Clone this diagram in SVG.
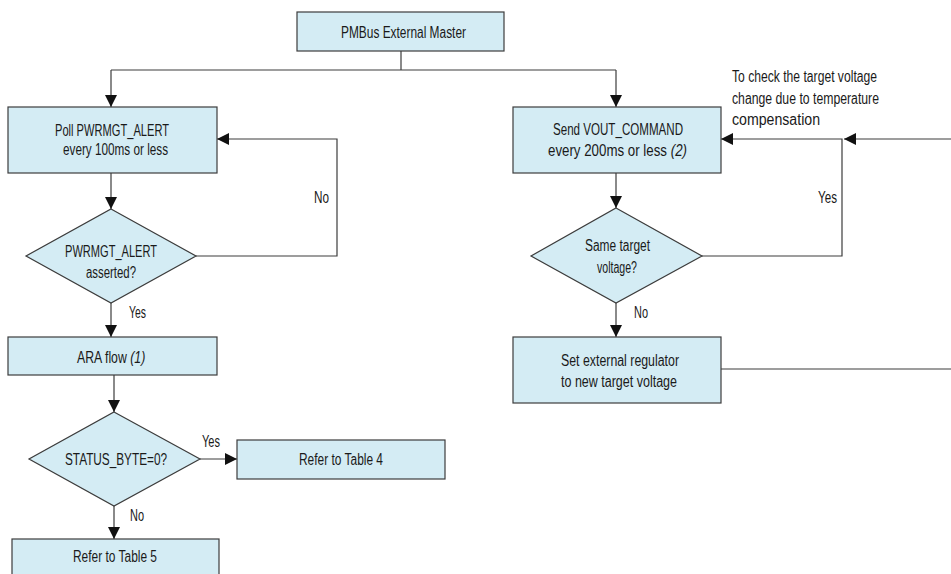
<svg xmlns="http://www.w3.org/2000/svg" width="951" height="574" viewBox="0 0 951 574">
<style>
.box{fill:#d4ecf4;stroke:#3c3c3c;stroke-width:1.2}
.ln{fill:none;stroke:#3c3c3c;stroke-width:1.2}
text{font-family:"Liberation Sans",Arial,sans-serif;font-size:16px;fill:#1a1a1a}
.it{font-style:italic}
</style>
<defs>
<marker id="ah" markerUnits="userSpaceOnUse" markerWidth="12" markerHeight="12" refX="12" refY="6" orient="auto">
<path d="M0,0 L12,6 L0,12 z" fill="#111"/>
</marker>
</defs>
<rect width="951" height="574" fill="#fff"/>
<g id="connectors">
<path class="ln" d="M401,51 V70"/>
<path class="ln" d="M111,70 H616"/>
<path class="ln" d="M111,70 V107" marker-end="url(#ah)"/>
<path class="ln" d="M616,70 V107" marker-end="url(#ah)"/>
<path class="ln" d="M111,173 V209" marker-end="url(#ah)"/>
<path class="ln" d="M196,256 H337 V139 H217" marker-end="url(#ah)"/>
<path class="ln" d="M111,303 V337" marker-end="url(#ah)"/>
<path class="ln" d="M114,375 V412" marker-end="url(#ah)"/>
<path class="ln" d="M200,459 H237" marker-end="url(#ah)"/>
<path class="ln" d="M114,506 V539" marker-end="url(#ah)"/>
<path class="ln" d="M616,173 V208" marker-end="url(#ah)"/>
<path class="ln" d="M616,303 V337" marker-end="url(#ah)"/>
<path class="ln" d="M702,256 H842 V139 H721" marker-end="url(#ah)"/>
<path class="ln" d="M951,139 H844" marker-end="url(#ah)"/>
<path class="ln" d="M721,369 H951"/>
<text x="314" y="203" textLength="15" lengthAdjust="spacingAndGlyphs">No</text>
<text x="129" y="318" textLength="17" lengthAdjust="spacingAndGlyphs">Yes</text>
<text x="202" y="447" textLength="18" lengthAdjust="spacingAndGlyphs">Yes</text>
<text x="130" y="521" textLength="14" lengthAdjust="spacingAndGlyphs">No</text>
<text x="818" y="203" textLength="19" lengthAdjust="spacingAndGlyphs">Yes</text>
<text x="634" y="318" textLength="14" lengthAdjust="spacingAndGlyphs">No</text>
<text x="732" y="82" textLength="145" lengthAdjust="spacingAndGlyphs">To check the target voltage</text>
<text x="732" y="104" textLength="147" lengthAdjust="spacingAndGlyphs">change due to temperature</text>
<text x="732" y="125" textLength="88" lengthAdjust="spacingAndGlyphs">compensation</text>
</g>
<g id="master">
<rect class="box" x="297" y="12" width="207" height="39"/>
<text x="341" y="38" textLength="125" lengthAdjust="spacingAndGlyphs">PMBus External Master</text>
</g>
<g id="poll">
<rect class="box" x="8" y="107" width="209" height="66"/>
<text x="55" y="136" textLength="114" lengthAdjust="spacingAndGlyphs">Poll PWRMGT_ALERT</text>
<text x="63" y="155" textLength="105" lengthAdjust="spacingAndGlyphs">every 100ms or less</text>
</g>
<g id="alert-decision">
<polygon class="box" points="111,209 196,256 111,303 26,256"/>
<text x="65" y="257" textLength="92" lengthAdjust="spacingAndGlyphs">PWRMGT_ALERT</text>
<text x="86" y="278" textLength="50" lengthAdjust="spacingAndGlyphs">asserted?</text>
</g>
<g id="ara">
<rect class="box" x="8" y="337" width="209" height="38"/>
<text transform="translate(77,363) scale(0.768,1)">ARA flow <tspan class="it">(1)</tspan></text>
</g>
<g id="status-decision">
<polygon class="box" points="114,412 200,459 114,506 29,459"/>
<text x="65" y="465" textLength="102" lengthAdjust="spacingAndGlyphs">STATUS_BYTE=0?</text>
</g>
<g id="table4">
<rect class="box" x="237" y="440" width="208" height="39"/>
<text x="299" y="465" textLength="84" lengthAdjust="spacingAndGlyphs">Refer to Table 4</text>
</g>
<g id="table5">
<rect class="box" x="12" y="539" width="207" height="42"/>
<text x="73" y="562" textLength="84" lengthAdjust="spacingAndGlyphs">Refer to Table 5</text>
</g>
<g id="send">
<rect class="box" x="513" y="107" width="208" height="66"/>
<text x="553" y="135" textLength="130" lengthAdjust="spacingAndGlyphs">Send VOUT_COMMAND</text>
<text transform="translate(548,156) scale(0.832,1)">every 200ms or less <tspan class="it">(2)</tspan></text>
</g>
<g id="same-decision">
<polygon class="box" points="616,208 702,256 616,303 531,256"/>
<text x="585" y="251" textLength="65" lengthAdjust="spacingAndGlyphs">Same target</text>
<text x="597" y="273" textLength="40" lengthAdjust="spacingAndGlyphs">voltage?</text>
</g>
<g id="set">
<rect class="box" x="513" y="337" width="208" height="66"/>
<text x="561" y="366" textLength="118" lengthAdjust="spacingAndGlyphs">Set external regulator</text>
<text x="561" y="387" textLength="116" lengthAdjust="spacingAndGlyphs">to new target voltage</text>
</g>
</svg>
